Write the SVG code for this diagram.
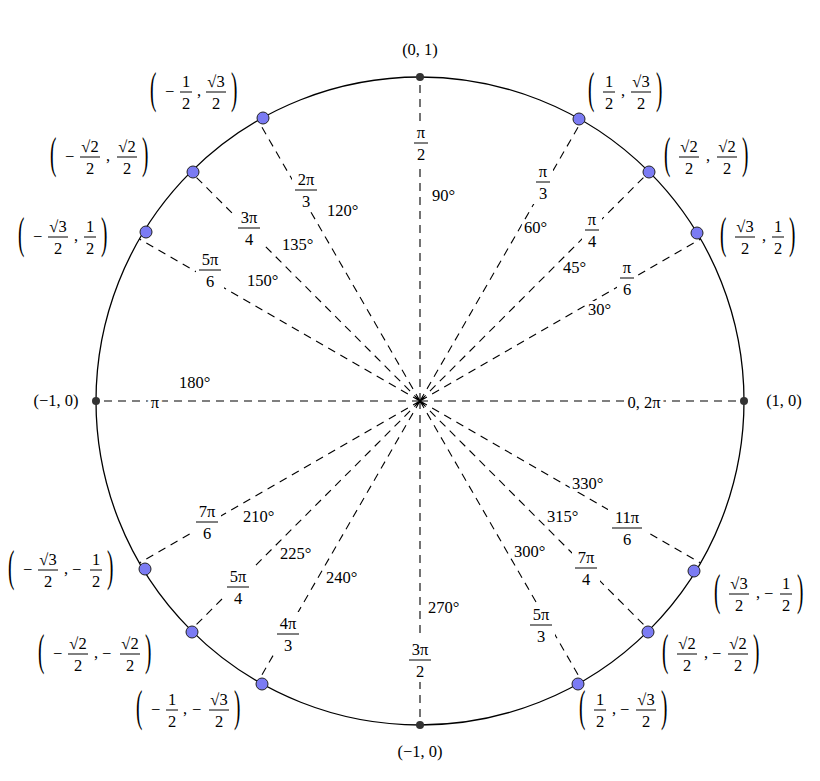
<svg xmlns="http://www.w3.org/2000/svg" width="820" height="781" viewBox="0 0 820 781">
<style>
text{font-family:"Liberation Serif","DejaVu Serif",serif;font-size:16.5px;fill:#000}
.m{text-anchor:middle}
.h{paint-order:stroke;stroke:#fff;stroke-width:6px}
.p{font-size:16px}
.bar{stroke:#000;stroke-width:1}
.bg{fill:#fff}
.d{stroke:#000;stroke-width:1.1;stroke-dasharray:8 6;fill:none}
.pt{fill:#7b7bf3;stroke:#222;stroke-width:1}
.ax{fill:#333}
</style>
<rect width="820" height="781" fill="#fff"/>
<circle cx="420" cy="401" r="324" fill="none" stroke="#000" stroke-width="1.3"/>
<g id="connectors">
<path class="d" d="M420 401L420 77M420 401L744 401M420 401L96 401M420 401L420 725"/>
<path class="d" d="M420 401L700.6 239M420 401L582 120.4M420 401L649.1 171.9M420 401L258 120.4M420 401L190.9 171.9M420 401L139.4 239"/>
<path class="d" d="M420 401L139.4 563M420 401L190.9 630.1M420 401L258 681.6M420 401L582 681.6M420 401L649.1 630.1M420 401L700.6 563"/>
</g>
<g id="points">
<circle class="ax" cx="420" cy="77" r="4"/><circle class="ax" cx="744" cy="401" r="4"/><circle class="ax" cx="96" cy="401" r="4"/><circle class="ax" cx="420" cy="725" r="4"/>
<circle class="pt" cx="697" cy="233" r="6"/><circle class="pt" cx="649" cy="172" r="6"/><circle class="pt" cx="579" cy="119" r="6"/>
<circle class="pt" cx="263" cy="118" r="6"/><circle class="pt" cx="193" cy="172" r="6"/><circle class="pt" cx="146" cy="232" r="6"/>
<circle class="pt" cx="145" cy="569" r="6"/><circle class="pt" cx="192" cy="632" r="6"/><circle class="pt" cx="262" cy="684" r="6"/>
<circle class="pt" cx="578" cy="684" r="6"/><circle class="pt" cx="648" cy="632" r="6"/><circle class="pt" cx="694" cy="571" r="6"/>
</g>
<g id="angles">
<g transform="translate(421,143)"><rect class="bg" x="-10" y="-22" width="20" height="44"/><text class="m" y="-5">π</text><line class="bar" x1="-7" x2="7"/><text class="m" y="17">2</text></g>
<text class="h" x="432" y="201">90°</text>
<g transform="translate(543,182)"><rect class="bg" x="-10" y="-22" width="20" height="44"/><text class="m" y="-5">π</text><line class="bar" x1="-7" x2="7"/><text class="m" y="17">3</text></g>
<text class="h" x="524" y="233">60°</text>
<g transform="translate(592,230)"><rect class="bg" x="-10" y="-22" width="20" height="44"/><text class="m" y="-5">π</text><line class="bar" x1="-7" x2="7"/><text class="m" y="17">4</text></g>
<text class="h" x="563" y="273">45°</text>
<g transform="translate(627,278)"><rect class="bg" x="-10" y="-22" width="20" height="44"/><text class="m" y="-5">π</text><line class="bar" x1="-7" x2="7"/><text class="m" y="17">6</text></g>
<text class="h" x="588" y="315">30°</text>
<g transform="translate(306,190)"><rect class="bg" x="-14" y="-22" width="28" height="44"/><text class="m" y="-5">2π</text><line class="bar" x1="-11" x2="11"/><text class="m" y="17">3</text></g>
<text class="h" x="327" y="216">120°</text>
<g transform="translate(249,228)"><rect class="bg" x="-14" y="-22" width="28" height="44"/><text class="m" y="-5">3π</text><line class="bar" x1="-11" x2="11"/><text class="m" y="17">4</text></g>
<text class="h" x="282" y="250">135°</text>
<g transform="translate(210,270)"><rect class="bg" x="-14" y="-22" width="28" height="44"/><text class="m" y="-5">5π</text><line class="bar" x1="-11" x2="11"/><text class="m" y="17">6</text></g>
<text class="h" x="247" y="286">150°</text>
<text class="h m" x="155" y="408">π</text>
<text class="h" x="179" y="388">180°</text>
<text class="h m" x="644" y="408">0, 2π</text>
<g transform="translate(207,522)"><rect class="bg" x="-14" y="-22" width="28" height="44"/><text class="m" y="-5">7π</text><line class="bar" x1="-11" x2="11"/><text class="m" y="17">6</text></g>
<text class="h" x="243" y="522">210°</text>
<g transform="translate(238,587)"><rect class="bg" x="-14" y="-22" width="28" height="44"/><text class="m" y="-5">5π</text><line class="bar" x1="-11" x2="11"/><text class="m" y="17">4</text></g>
<text class="h" x="280" y="559">225°</text>
<g transform="translate(288,634)"><rect class="bg" x="-14" y="-22" width="28" height="44"/><text class="m" y="-5">4π</text><line class="bar" x1="-11" x2="11"/><text class="m" y="17">3</text></g>
<text class="h" x="326" y="583">240°</text>
<g transform="translate(420,660)"><rect class="bg" x="-14" y="-22" width="28" height="44"/><text class="m" y="-5">3π</text><line class="bar" x1="-11" x2="11"/><text class="m" y="17">2</text></g>
<text class="h" x="428" y="613">270°</text>
<g transform="translate(541,625)"><rect class="bg" x="-14" y="-22" width="28" height="44"/><text class="m" y="-5">5π</text><line class="bar" x1="-11" x2="11"/><text class="m" y="17">3</text></g>
<text class="h" x="514" y="557">300°</text>
<g transform="translate(586,568)"><rect class="bg" x="-14" y="-22" width="28" height="44"/><text class="m" y="-5">7π</text><line class="bar" x1="-11" x2="11"/><text class="m" y="17">4</text></g>
<text class="h" x="547" y="522">315°</text>
<g transform="translate(627,528)"><rect class="bg" x="-19" y="-22" width="38" height="44"/><text class="m" y="-5">11π</text><line class="bar" x1="-15" x2="15"/><text class="m" y="17">6</text></g>
<text class="h" x="572" y="489">330°</text>
</g>
<g id="coords">
<text class="m" x="420" y="55">(0, 1)</text>
<text class="m" x="784" y="406">(1, 0)</text>
<text class="m" x="56" y="406">(−1, 0)</text>
<text class="m" x="420" y="757">(−1, 0)</text>
<g transform="translate(720,237)"><text class="p" transform="translate(0,11) scale(1.2,2.8)">(</text><text class="m" x="25" y="-5">√3</text><line class="bar" x1="15" x2="35"/><text class="m" x="25" y="17">2</text><text x="42" y="4">,</text><text class="m" x="58" y="-5">1</text><line class="bar" x1="52" x2="64"/><text class="m" x="58" y="17">2</text><text class="p" transform="translate(69,11) scale(1.2,2.8)">)</text></g>
<g transform="translate(664,157)"><text class="p" transform="translate(0,11) scale(1.2,2.8)">(</text><text class="m" x="25" y="-5">√2</text><line class="bar" x1="15" x2="35"/><text class="m" x="25" y="17">2</text><text x="42" y="4">,</text><text class="m" x="63" y="-5">√2</text><line class="bar" x1="53" x2="73"/><text class="m" x="63" y="17">2</text><text class="p" transform="translate(78,11) scale(1.2,2.8)">)</text></g>
<g transform="translate(588,92)"><text class="p" transform="translate(0,11) scale(1.2,2.8)">(</text><text class="m" x="21" y="-5">1</text><line class="bar" x1="15" x2="27"/><text class="m" x="21" y="17">2</text><text x="33" y="4">,</text><text class="m" x="53" y="-5">√3</text><line class="bar" x1="43" x2="63"/><text class="m" x="53" y="17">2</text><text class="p" transform="translate(68,11) scale(1.2,2.8)">)</text></g>
<g transform="translate(150,92)"><text class="p" transform="translate(0,11) scale(1.2,2.8)">(</text><text x="15" y="5">−</text><text class="m" x="36" y="-5">1</text><line class="bar" x1="30" x2="42"/><text class="m" x="36" y="17">2</text><text x="47" y="4">,</text><text class="m" x="66" y="-5">√3</text><line class="bar" x1="56" x2="76"/><text class="m" x="66" y="17">2</text><text class="p" transform="translate(81,11) scale(1.2,2.8)">)</text></g>
<g transform="translate(50,157)"><text class="p" transform="translate(0,11) scale(1.2,2.8)">(</text><text x="15" y="5">−</text><text class="m" x="40" y="-5">√2</text><line class="bar" x1="30" x2="50"/><text class="m" x="40" y="17">2</text><text x="56" y="4">,</text><text class="m" x="77" y="-5">√2</text><line class="bar" x1="67" x2="87"/><text class="m" x="77" y="17">2</text><text class="p" transform="translate(92,11) scale(1.2,2.8)">)</text></g>
<g transform="translate(18,237)"><text class="p" transform="translate(0,11) scale(1.2,2.8)">(</text><text x="15" y="5">−</text><text class="m" x="40" y="-5">√3</text><line class="bar" x1="30" x2="50"/><text class="m" x="40" y="17">2</text><text x="56" y="4">,</text><text class="m" x="72" y="-5">1</text><line class="bar" x1="66" x2="78"/><text class="m" x="72" y="17">2</text><text class="p" transform="translate(83,11) scale(1.2,2.8)">)</text></g>
<g transform="translate(8,570)"><text class="p" transform="translate(0,11) scale(1.2,2.8)">(</text><text x="15" y="5">−</text><text class="m" x="40" y="-5">√3</text><line class="bar" x1="30" x2="50"/><text class="m" x="40" y="17">2</text><text x="56" y="4">,</text><text x="64" y="5">−</text><text class="m" x="88" y="-5">1</text><line class="bar" x1="82" x2="94"/><text class="m" x="88" y="17">2</text><text class="p" transform="translate(99,11) scale(1.2,2.8)">)</text></g>
<g transform="translate(38,654)"><text class="p" transform="translate(0,11) scale(1.2,2.8)">(</text><text x="15" y="5">−</text><text class="m" x="40" y="-5">√2</text><line class="bar" x1="30" x2="50"/><text class="m" x="40" y="17">2</text><text x="56" y="4">,</text><text x="64" y="5">−</text><text class="m" x="92" y="-5">√2</text><line class="bar" x1="82" x2="102"/><text class="m" x="92" y="17">2</text><text class="p" transform="translate(107,11) scale(1.2,2.8)">)</text></g>
<g transform="translate(136,710)"><text class="p" transform="translate(0,11) scale(1.2,2.8)">(</text><text x="15" y="5">−</text><text class="m" x="36" y="-5">1</text><line class="bar" x1="30" x2="42"/><text class="m" x="36" y="17">2</text><text x="47" y="4">,</text><text x="56" y="5">−</text><text class="m" x="83" y="-5">√3</text><line class="bar" x1="73" x2="93"/><text class="m" x="83" y="17">2</text><text class="p" transform="translate(98,11) scale(1.2,2.8)">)</text></g>
<g transform="translate(579,710)"><text class="p" transform="translate(0,11) scale(1.2,2.8)">(</text><text class="m" x="21" y="-5">1</text><line class="bar" x1="15" x2="27"/><text class="m" x="21" y="17">2</text><text x="33" y="4">,</text><text x="41" y="5">−</text><text class="m" x="67" y="-5">√3</text><line class="bar" x1="57" x2="77"/><text class="m" x="67" y="17">2</text><text class="p" transform="translate(82,11) scale(1.2,2.8)">)</text></g>
<g transform="translate(662,654)"><text class="p" transform="translate(0,11) scale(1.2,2.8)">(</text><text class="m" x="25" y="-5">√2</text><line class="bar" x1="15" x2="35"/><text class="m" x="25" y="17">2</text><text x="42" y="4">,</text><text x="50" y="5">−</text><text class="m" x="76" y="-5">√2</text><line class="bar" x1="66" x2="86"/><text class="m" x="76" y="17">2</text><text class="p" transform="translate(91,11) scale(1.2,2.8)">)</text></g>
<g transform="translate(714,594)"><text class="p" transform="translate(0,11) scale(1.2,2.8)">(</text><text class="m" x="25" y="-5">√3</text><line class="bar" x1="15" x2="35"/><text class="m" x="25" y="17">2</text><text x="42" y="4">,</text><text x="50" y="5">−</text><text class="m" x="72" y="-5">1</text><line class="bar" x1="66" x2="78"/><text class="m" x="72" y="17">2</text><text class="p" transform="translate(83,11) scale(1.2,2.8)">)</text></g>
</g>
</svg>
